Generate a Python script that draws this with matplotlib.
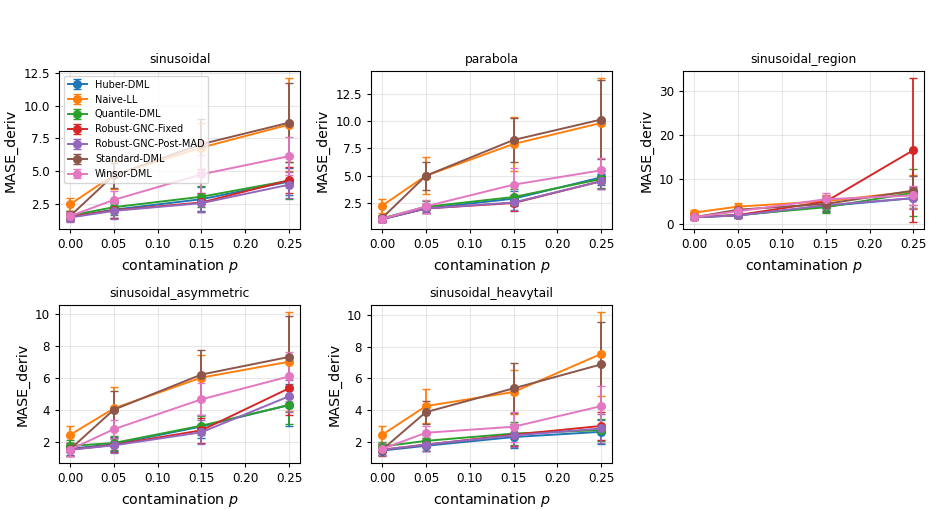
import matplotlib
matplotlib.use("Agg")
import matplotlib.pyplot as plt

p_levels = [0.00, 0.05, 0.15, 0.25]
methods = ["Huber-DML", "Naive-LL", "Quantile-DML", "Robust-GNC-Fixed",
           "Robust-GNC-Post-MAD", "Standard-DML", "Winsor-DML"]
scenarios = ["sinusoidal", "parabola", "sinusoidal_region",
             "sinusoidal_asymmetric", "sinusoidal_heavytail"]

# mean MASE_deriv per method, one list per scenario
sinusoidal_mean = {
    "Huber-DML": [1.50, 2.05, 2.85, 4.20],
    "Naive-LL": [2.45, 4.70, 6.80, 8.55],
    "Quantile-DML": [1.60, 2.24, 3.04, 4.27],
    "Robust-GNC-Fixed": [1.50, 2.00, 2.60, 4.30],
    "Robust-GNC-Post-MAD": [1.45, 1.96, 2.55, 3.96],
    "Standard-DML": [1.55, 4.68, 7.06, 8.70],
    "Winsor-DML": [1.55, 2.80, 4.75, 6.14],
}
sinusoidal_err = {
    "Huber-DML": [0.35, 0.60, 0.90, 1.00],
    "Naive-LL": [0.50, 1.10, 1.90, 3.55],
    "Quantile-DML": [0.35, 0.60, 0.80, 1.40],
    "Robust-GNC-Fixed": [0.35, 0.60, 0.70, 1.00],
    "Robust-GNC-Post-MAD": [0.35, 0.60, 0.70, 1.00],
    "Standard-DML": [0.40, 0.95, 1.90, 3.00],
    "Winsor-DML": [0.35, 0.70, 1.50, 1.45],
}

parabola_mean = {
    "Huber-DML": [1.00, 2.00, 2.90, 4.85],
    "Naive-LL": [2.25, 5.00, 7.91, 9.84],
    "Quantile-DML": [1.10, 2.15, 3.05, 4.70],
    "Robust-GNC-Fixed": [1.05, 2.00, 2.50, 4.50],
    "Robust-GNC-Post-MAD": [1.05, 2.00, 2.55, 4.50],
    "Standard-DML": [1.12, 5.00, 8.28, 10.15],
    "Winsor-DML": [1.05, 2.20, 4.18, 5.50],
}
parabola_err = {
    "Huber-DML": [0.25, 0.45, 0.70, 0.70],
    "Naive-LL": [0.65, 1.70, 2.50, 4.10],
    "Quantile-DML": [0.25, 0.50, 0.70, 0.80],
    "Robust-GNC-Fixed": [0.25, 0.45, 0.70, 0.70],
    "Robust-GNC-Post-MAD": [0.25, 0.45, 0.70, 0.70],
    "Standard-DML": [0.30, 1.30, 2.05, 3.60],
    "Winsor-DML": [0.25, 0.60, 1.50, 1.10],
}

region_mean = {
    "Huber-DML": [1.50, 1.90, 4.00, 5.80],
    "Naive-LL": [2.55, 3.90, 5.10, 7.30],
    "Quantile-DML": [1.50, 2.00, 3.75, 7.00],
    "Robust-GNC-Fixed": [1.50, 2.00, 5.00, 16.60],
    "Robust-GNC-Post-MAD": [1.50, 1.90, 4.20, 5.80],
    "Standard-DML": [1.50, 3.20, 4.50, 7.50],
    "Winsor-DML": [1.50, 2.85, 5.55, 6.40],
}
region_err = {
    "Huber-DML": [0.40, 0.50, 1.30, 2.30],
    "Naive-LL": [0.50, 0.80, 1.40, 3.80],
    "Quantile-DML": [0.40, 0.50, 1.30, 5.30],
    "Robust-GNC-Fixed": [0.40, 0.50, 1.30, 16.20],
    "Robust-GNC-Post-MAD": [0.40, 0.50, 1.30, 2.50],
    "Standard-DML": [0.40, 0.80, 1.60, 3.30],
    "Winsor-DML": [0.40, 0.70, 1.30, 2.20],
}

asym_mean = {
    "Huber-DML": [1.55, 1.85, 2.95, 4.30],
    "Naive-LL": [2.42, 4.08, 6.01, 7.00],
    "Quantile-DML": [1.73, 1.92, 3.00, 4.29],
    "Robust-GNC-Fixed": [1.50, 1.80, 2.71, 5.34],
    "Robust-GNC-Post-MAD": [1.50, 1.77, 2.59, 4.84],
    "Standard-DML": [1.52, 4.00, 6.20, 7.30],
    "Winsor-DML": [1.50, 2.78, 4.65, 6.08],
}
asym_err = {
    "Huber-DML": [0.40, 0.45, 0.70, 1.30],
    "Naive-LL": [0.57, 1.32, 1.43, 3.10],
    "Quantile-DML": [0.35, 0.45, 0.60, 1.20],
    "Robust-GNC-Fixed": [0.40, 0.45, 0.80, 1.70],
    "Robust-GNC-Post-MAD": [0.40, 0.45, 0.75, 1.00],
    "Standard-DML": [0.40, 1.17, 1.56, 2.56],
    "Winsor-DML": [0.40, 0.60, 1.00, 1.52],
}

heavy_mean = {
    "Huber-DML": [1.45, 1.75, 2.30, 2.63],
    "Naive-LL": [2.44, 4.25, 5.14, 7.54],
    "Quantile-DML": [1.70, 2.06, 2.52, 2.74],
    "Robust-GNC-Fixed": [1.50, 1.82, 2.45, 3.00],
    "Robust-GNC-Post-MAD": [1.50, 1.83, 2.40, 2.84],
    "Standard-DML": [1.50, 3.87, 5.37, 6.88],
    "Winsor-DML": [1.55, 2.57, 2.95, 4.25],
}
heavy_err = {
    "Huber-DML": [0.30, 0.35, 0.70, 0.75],
    "Naive-LL": [0.56, 1.05, 1.36, 2.63],
    "Quantile-DML": [0.30, 0.40, 0.70, 0.70],
    "Robust-GNC-Fixed": [0.35, 0.40, 0.70, 0.90],
    "Robust-GNC-Post-MAD": [0.35, 0.40, 0.70, 0.90],
    "Standard-DML": [0.40, 0.73, 1.58, 2.70],
    "Winsor-DML": [0.40, 0.45, 0.95, 1.25],
}

means = [sinusoidal_mean, parabola_mean, region_mean, asym_mean, heavy_mean]
errs = [sinusoidal_err, parabola_err, region_err, asym_err, heavy_err]

plt.rcParams["xtick.major.size"] = 3
plt.rcParams["ytick.major.size"] = 3

fig, axes = plt.subplots(2, 3, figsize=(9.33, 5.09), dpi=100)
fig.subplots_adjust(left=0.0632, right=0.9907, top=0.8605, bottom=0.0898,
                    wspace=0.295, hspace=0.478)

for i, name in enumerate(scenarios):
    ax = axes.flat[i]
    for j, m in enumerate(methods):
        ax.errorbar(p_levels, means[i][m], yerr=errs[i][m], marker="o",
                    markersize=5.5, capsize=2.6, linewidth=1.4,
                    elinewidth=1.3, color=f"C{j}", label=m)
    ax.set_title(name, fontsize=8.8)
    ax.set_xlabel("contamination $p$", fontsize=10.3)
    ax.set_ylabel("MASE_deriv", fontsize=10.3)
    ax.set_xticks([0.0, 0.05, 0.10, 0.15, 0.20, 0.25])
    ax.tick_params(labelsize=8.6)
    ax.grid(True, alpha=0.3)
    if i == 0:
        ax.legend(fontsize=7, loc="upper left")

axes.flat[5].axis("off")

fig.savefig("out.png", dpi=100)
